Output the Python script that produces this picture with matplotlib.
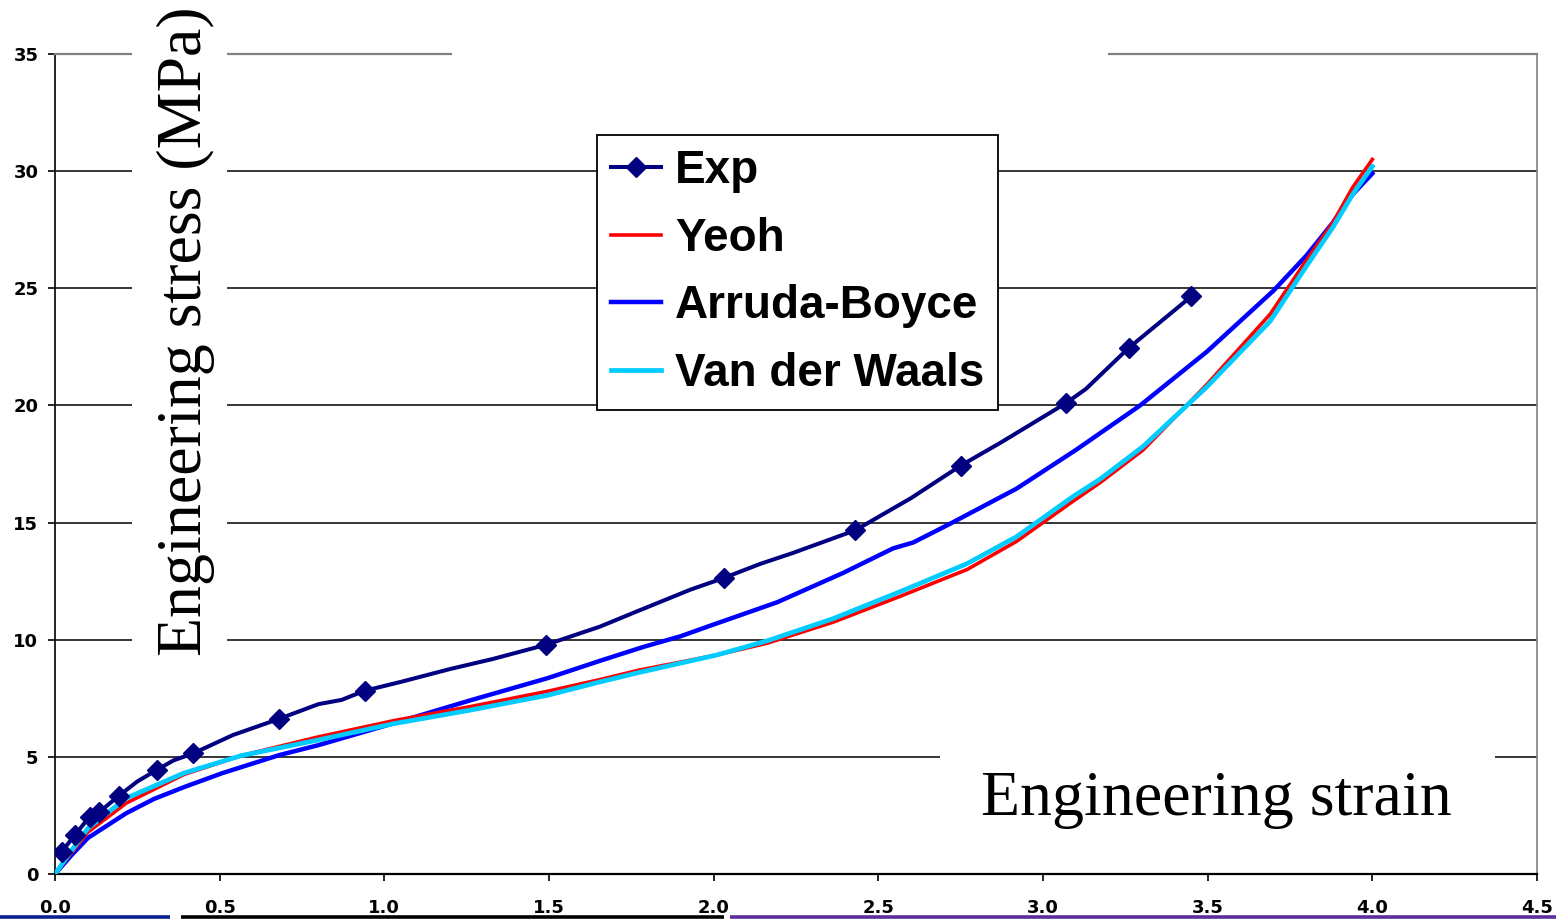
import matplotlib

matplotlib.use("Agg")
import matplotlib.pyplot as plt
from matplotlib.patches import Rectangle
from matplotlib.lines import Line2D

# Experimental curve (markers sit on the points listed in exp_marked)
exp_strain = [0.02, 0.06, 0.105, 0.135, 0.195, 0.25, 0.31, 0.36, 0.42, 0.54, 0.68, 0.80, 0.87,
              0.94, 1.05, 1.20, 1.33, 1.49, 1.655, 1.755, 1.93, 2.03, 2.14, 2.24, 2.43, 2.60,
              2.75, 2.87, 2.99, 3.07, 3.13, 3.26, 3.45]
exp_stress = [0.95, 1.65, 2.45, 2.65, 3.35, 3.95, 4.45, 4.85, 5.15, 5.93, 6.62, 7.25, 7.43,
              7.82, 8.2, 8.75, 9.18, 9.78, 10.56, 11.14, 12.14, 12.63, 13.23, 13.7, 14.67, 16.05,
              17.43, 18.4, 19.42, 20.1, 20.7, 22.45, 24.65]
exp_marked = [0, 1, 2, 3, 4, 6, 8, 10, 13, 17, 21, 24, 26, 29, 31, 32]

# Model fits
ab_strain = [0.0, 0.05, 0.10, 0.217, 0.30, 0.392, 0.507, 0.682, 0.80, 1.03, 1.263, 1.496, 1.655,
             1.786, 1.90, 1.99, 2.193, 2.393, 2.545, 2.606, 2.718, 2.92, 3.10, 3.295, 3.498,
             3.70, 3.80, 3.88, 3.94, 4.0]
ab_stress = [0.0, 0.8, 1.54, 2.6, 3.2, 3.71, 4.3, 5.08, 5.5, 6.44, 7.42, 8.36, 9.1,
             9.69, 10.15, 10.6, 11.6, 12.85, 13.9, 14.15, 14.95, 16.45, 18.1, 20.0, 22.3,
             24.9, 26.4, 27.8, 29.0, 29.9]

yeoh_strain = [0.0, 0.05, 0.10, 0.217, 0.392, 0.565, 0.799, 1.03, 1.263, 1.496, 1.655, 1.773,
               2.01, 2.162, 2.363, 2.566, 2.77, 2.92, 3.09, 3.173, 3.304, 3.498, 3.69, 3.80,
               3.88, 3.94, 4.0]
yeoh_stress = [0.0, 0.9, 1.79, 3.03, 4.25, 5.05, 5.85, 6.55, 7.15, 7.8, 8.3, 8.7,
               9.35, 9.85, 10.75, 11.85, 13.0, 14.2, 15.9, 16.7, 18.1, 20.9, 23.9, 26.2,
               27.8, 29.3, 30.5]

vdw_strain = [0.0, 0.05, 0.10, 0.217, 0.392, 0.565, 0.799, 1.03, 1.263, 1.496, 1.655, 1.773,
              2.01, 2.162, 2.363, 2.566, 2.77, 2.92, 3.09, 3.173, 3.304, 3.498, 3.69, 3.80,
              3.88, 3.94, 4.0]
vdw_stress = [0.0, 1.0, 1.95, 3.24, 4.31, 5.05, 5.72, 6.42, 7.0, 7.63, 8.2, 8.6,
              9.35, 9.95, 10.9, 12.05, 13.25, 14.4, 16.1, 16.85, 18.25, 20.8, 23.6, 25.95,
              27.6, 29.0, 30.2]

x_ticks = [0.0, 0.5, 1.0, 1.5, 2.0, 2.5, 3.0, 3.5, 4.0, 4.5]
y_ticks = [0, 5, 10, 15, 20, 25, 30, 35]

W, H = 1556, 919
fig = plt.figure(figsize=(W / 100, H / 100), dpi=100)


def px_box(x0, y0, x1, y1):
    # pixel box (top-left origin) -> figure fraction [left, bottom, width, height]
    return [x0 / W, 1 - y1 / H, (x1 - x0) / W, (y1 - y0) / H]


ax = fig.add_axes(px_box(55, 54, 1537, 874))
ax.set_xlim(0, 4.5)
ax.set_ylim(0, 35)

ax.plot(ab_strain, ab_stress, color="#0000ff", lw=3.2, zorder=2, label="Arruda-Boyce")
ax.plot(yeoh_strain, yeoh_stress, color="#ff0000", lw=2.6, zorder=3, label="Yeoh")
ax.plot(vdw_strain, vdw_stress, color="#00ccff", lw=3.4, zorder=4, label="Van der Waals")
ax.plot(exp_strain, exp_stress, color="#000080", lw=2.9, marker="D", markersize=10.5,
        markevery=exp_marked, zorder=5, label="Exp")

ax.tick_params(axis="x", direction="out", length=5, width=1.2, pad=13, color="black")
ax.tick_params(axis="y", direction="out", length=5, width=1.2, pad=7, color="black")
tick_font = dict(family="DejaVu Sans", weight="bold", size=13)
ax.set_xticks(x_ticks, [f"{v:.1f}" for v in x_ticks], **tick_font)
ax.set_yticks(y_ticks, [str(v) for v in y_ticks], **tick_font)

ax.yaxis.grid(True, color="black", lw=1.1)
ax.set_axisbelow(True)
ax.spines["left"].set_linewidth(1.2)
ax.spines["bottom"].set_linewidth(1.6)
ax.spines["top"].set_color("#808080")
ax.spines["top"].set_linewidth(1.6)
ax.spines["right"].set_color("#808080")
ax.spines["right"].set_linewidth(1.2)

handles, labels = ax.get_legend_handles_labels()
order = [3, 1, 0, 2]
leg = ax.legend([handles[i] for i in order], [labels[i] for i in order],
                loc="upper left", bbox_to_anchor=(597 / W, 1 - 135 / H),
                bbox_transform=fig.transFigure, borderaxespad=0,
                prop=dict(family="Liberation Sans", weight="bold", size=33),
                handlelength=1.1, handletextpad=0.3, labelspacing=0.52,
                borderpad=0.3, fancybox=False, framealpha=1)
leg.get_frame().set_edgecolor("black")
leg.get_frame().set_linewidth(1.3)

# white panels behind the axis titles and the empty title slot
for box in [(132, 0, 227, 678), (940, 735, 1495, 860), (452, 40, 1108, 68)]:
    l, b, w, h = px_box(*box)
    fig.add_artist(Rectangle((l, b), w, h, transform=fig.transFigure,
                             facecolor="white", edgecolor="none", zorder=3))

serif = dict(family="Liberation Serif", size=46, zorder=4)
fig.text(186 / W, 1 - 331 / H, "Engineering stress (MPa)", rotation=90,
         ha="center", va="center", **serif)
fig.text(1216 / W, 1 - 815 / H, "Engineering strain", ha="center", va="baseline", **serif)

# coloured rule along the bottom edge
for x0, x1, col in [(0, 170, "#0a2090"), (181, 724, "black"), (730, W, "#5b2d9e")]:
    fig.add_artist(Line2D([x0 / W, x1 / W], [1.8 / H, 1.8 / H], transform=fig.transFigure,
                          color=col, lw=2.6, solid_capstyle="butt", zorder=4))

fig.savefig("out.png", dpi=100)
